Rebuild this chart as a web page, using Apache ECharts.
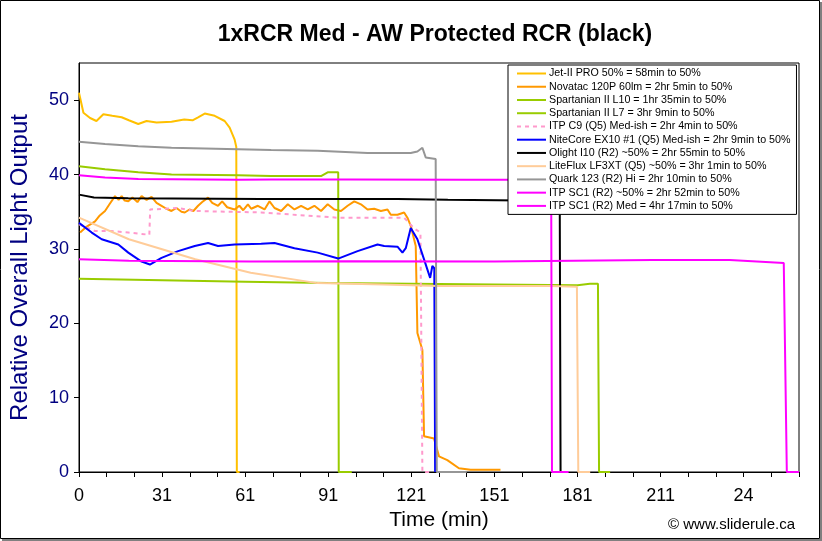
<!DOCTYPE html>
<html><head><meta charset="utf-8">
<script src="https://cdn.jsdelivr.net/npm/echarts@6/dist/echarts.min.js"></script>
<style>html,body{margin:0;padding:0;background:#fff}#c{width:822px;height:541px}</style>
</head><body><div id="c"></div>
<script>
// ---- data (time in minutes, relative output) ----
const tickValues = [0, 30, 60, 90, 120, 150, 180, 210, 240];
const tickLabels = ['0', '31', '61', '91', '121', '151', '181', '211', '24'];
const seriesNames = [
  'Jet-II PRO 50% = 58min to 50%',
  'Novatac 120P 60lm = 2hr 5min to 50%',
  'Spartanian II L10 = 1hr 35min to 50%',
  'Spartanian II L7 = 3hr 9min to 50%',
  'ITP C9 (Q5) Med-ish = 2hr 4min to 50%',
  'NiteCore EX10 #1 (Q5) Med-ish = 2hr 9min to 50%',
  'Olight I10 (R2) ~50% = 2hr 55min to 50%',
  'LiteFlux LF3XT (Q5) ~50% = 3hr 1min to 50%',
  'Quark 123 (R2) Hi = 2hr 10min to 50%',
  'ITP SC1 (R2) ~50% = 2hr 52min to 50%',
  'ITP SC1 (R2) Med = 4hr 17min to 50%'
];
const jetII = [[0,51],[1.6,48.3],[4,47.6],[6.3,47.2],[8.8,48.1],[12,47.9],[15.4,47.7],[18,47.3],[21.4,46.8],[24.4,47.2],[28,47.0],[33.4,47.1],[38,47.4],[41,47.3],[43,47.7],[45.4,48.2],[49,47.9],[52.6,47.2],[54.4,46.3],[56.2,44.7],[56.8,43.7],[57.0,0],[58,0]];
const novatac = [[0.4,32.2],[2.8,33.0],[5.8,33.7],[7.5,34.5],[9.4,35.1],[11,36.0],[13,37.1],[14.3,36.6],[15.4,37.1],[16.5,36.5],[17.8,36.4],[19.3,36.9],[21.1,36.3],[22.6,37.1],[24.4,36.6],[26.2,37.0],[28,36.2],[29.8,35.8],[31.6,35.4],[33.4,35.1],[35.2,35.5],[37,35.0],[38.2,34.9],[39.9,35.3],[41.3,35.1],[43,35.8],[44.5,36.3],[46.6,36.9],[48.1,36.2],[50.2,35.8],[51.7,36.4],[53.5,35.6],[56.2,35.3],[57.9,35.8],[59.3,35.2],[61,36.0],[62.2,35.4],[64.6,35.8],[67,35.3],[68.8,36.4],[70.6,35.5],[73,35.1],[75.4,36.0],[77.8,35.3],[80.2,35.8],[82.6,35.3],[85,35.8],[87.4,35.1],[89.8,36.0],[92.2,35.3],[94.6,35.1],[97,35.8],[99.4,36.4],[101.8,36.0],[104.2,35.3],[106.6,35.4],[109,35.1],[111.4,35.3],[112.6,34.6],[115,34.6],[117.4,34.9],[118.6,34.2],[119.8,33.1],[121.6,30.4],[122.2,18.7],[124,16.4],[124.6,4.8],[128.2,4.5],[130,2.1],[133,1.6],[137.2,0.5],[141.4,0.3],[152.2,0.3]];
const spartL10 = [[0,41.1],[9.4,40.7],[21.4,40.3],[33.4,40.0],[57.4,39.9],[69.4,39.8],[87.4,39.8],[89.8,40.3],[93.6,40.3],[93.8,0],[98.5,0]];
const spartL7 = [[0,26.0],[30,25.8],[60,25.6],[90,25.4],[120,25.3],[150,25.2],[180,25.1],[184.5,25.3],[187.4,25.3],[187.8,0],[191.8,0]];
const itpC9 = [[0,33.3],[5.8,32.4],[11.8,32.4],[17.8,32.2],[25.4,31.9],[25.7,35.3],[35.8,35.5],[41.8,35.1],[65.8,34.9],[93.2,34.2],[117.4,34.2],[120.9,32.8],[123.3,32.2],[124,0],[127.6,0]];
const nitecore = [[0,33.5],[4.6,32.2],[8.2,31.3],[14.2,30.6],[17.8,29.5],[22.6,28.3],[25.6,27.9],[29.8,28.8],[35.8,29.7],[41.8,30.4],[46.6,30.8],[50.2,30.4],[56.2,30.6],[65.8,30.7],[70.6,30.8],[77.8,30.1],[86.2,29.5],[93.6,28.7],[100.6,29.7],[107.8,30.6],[110.2,30.4],[115,30.3],[116.8,29.5],[118,30.1],[119.8,32.8],[122.2,31.3],[124.6,28.6],[126.8,26.1],[127.6,27.7],[128.3,27.4],[128.6,0]];
const olight = [[0,37.3],[5.4,36.9],[17.8,36.8],[65.8,36.7],[115,36.7],[133.2,36.6],[160,36.5],[173.6,36.4],[173.9,0]];
const liteflux = [[0,34.2],[18,31.3],[42,28.6],[62,26.8],[86,25.4],[110,25.2],[130,25.0],[150,25.0],[170,25.0],[179.8,24.9],[180.3,0],[184.6,0]];
const quark = [[0,44.4],[9.4,44.1],[21.4,43.8],[33.4,43.6],[45.4,43.5],[57.4,43.4],[69.4,43.3],[86.2,43.2],[104.2,42.9],[119.8,42.9],[122.2,43.1],[124,43.6],[125.2,42.3],[128.8,42.1],[129.2,0],[140,0]];
const sc1High = [[0,39.9],[9.4,39.6],[21.4,39.4],[57.4,39.3],[69.4,39.35],[98,39.35],[140,39.3],[170.5,39.3],[170.8,0],[176.8,0]];
const sc1Med = [[0,28.6],[18,28.4],[62,28.3],[98,28.35],[150,28.3],[207,28.5],[235,28.5],[254.5,28.1],[255.6,0],[260,0]];
const seriesData = [jetII, novatac, spartL10, spartL7, itpC9, nitecore, olight, liteflux, quark, sc1High, sc1Med];
const seriesColors = ['#FFC000','#FF9900','#99CC00','#99CC00','#FF99CC','#0000FF','#000000','#FFCC99','#969696','#FF00FF','#FF00FF'];

const font = 'Arial, "Liberation Sans", sans-serif';
const chart = echarts.init(document.getElementById('c'));
chart.setOption({
  animation: false,
  backgroundColor: '#fff',
  grid: {left: 77, right: 23, top: 63, bottom: 69, show: true, borderColor: '#000', borderWidth: 1, backgroundColor: '#fff'},
  xAxis: {
    type: 'value', min: 0, max: 260, interval: 10,
    axisLine: {show: true, onZero: false, lineStyle: {color: '#000', width: 1}},
    axisTick: {show: true, length: 5, lineStyle: {color: '#000'}},
    splitLine: {show: false},
    axisLabel: {color: '#000', fontSize: 18, fontFamily: font, margin: 15,
      formatter: v => { const i = tickValues.indexOf(v); return i >= 0 ? tickLabels[i] : ''; }},
    name: 'Time (min)', nameLocation: 'middle', nameGap: 38,
    nameTextStyle: {color: '#000', fontSize: 21, fontFamily: font}
  },
  yAxis: {
    type: 'value', min: 0, max: 55, interval: 10,
    axisLine: {show: true, lineStyle: {color: '#000', width: 1}},
    axisTick: {show: true, length: 5, lineStyle: {color: '#000'}},
    splitLine: {show: false},
    axisLabel: {color: '#000080', fontSize: 18, fontFamily: font, margin: 10, showMaxLabel: false,
      formatter: v => (v % 10 === 0 ? String(v) : '')},
    name: 'Relative Overall Light Output', nameLocation: 'middle', nameGap: 47,
    nameTextStyle: {color: '#000080', fontSize: 24, fontFamily: font}
  },
  legend: {
    orient: 'vertical', left: 508, top: 65,
    itemWidth: 29, itemHeight: 11, itemGap: 2.24,
    padding: [3, 6, 3, 8],
    backgroundColor: '#fff', borderColor: '#000', borderWidth: 1, borderRadius: 0,
    selectedMode: false,
    itemStyle: {opacity: 0},
    textStyle: {color: '#000', fontSize: 10.7, lineHeight: 11, fontFamily: font, padding: [0,0,0,-2]},
    data: seriesNames
  },
  graphic: [
    {type: 'text', x: 435, y: 35, style: {text: '1xRCR Med - AW Protected RCR (black)', fill: '#000', font: 'bold 23px ' + font, textAlign: 'center', textVerticalAlign: 'middle'}, z: 10},
    {type: 'text', right: 27, top: 517, style: {text: '© www.sliderule.ca', fill: '#000', font: '15px ' + font}, z: 10},
    {type: 'rect', shape: {x: 0.5, y: 0.5, width: 819, height: 538}, style: {fill: 'none', stroke: '#000', lineWidth: 1}, z: 10, silent: true},
    {type: 'rect', shape: {x: 820, y: 2, width: 2, height: 539}, style: {fill: '#808080'}, z: 10, silent: true},
    {type: 'rect', shape: {x: 2, y: 539, width: 820, height: 2}, style: {fill: '#808080'}, z: 10, silent: true}
  ],
  series: seriesData.map((d, i) => ({
    name: seriesNames[i], type: 'line', data: d,
    showSymbol: false, symbol: 'none',
    lineStyle: {color: seriesColors[i], width: 2, type: i === 4 ? [4, 4] : 'solid'},
    itemStyle: {color: seriesColors[i]}
  }))
});
</script></body></html>
